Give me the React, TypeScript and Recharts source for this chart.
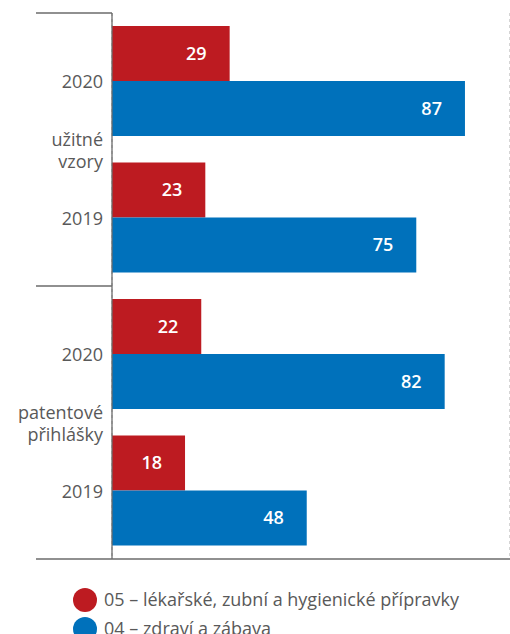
import React from 'react';
import {
  BarChart,
  Bar,
  XAxis,
  YAxis,
  CartesianGrid,
  LabelList,
  Legend,
} from 'recharts';

const years = ['2020', '2019', '2020', '2019'];
const groups = ['užitné vzory', 'užitné vzory', 'patentové přihlášky', 'patentové přihlášky'];
const medical = [29, 23, 22, 18];
const health = [87, 75, 82, 48];
const seriesNames = ['05 – lékařské, zubní a hygienické přípravky', '04 – zdraví a zábava'];
const xTicks = [0, 20, 40, 60, 80];

const RED = '#bd1b21';
const BLUE = '#0071bb';
const AXIS = '#6b6b6b';
const TEXT = '#595959';
const FONT = '"Open Sans", sans-serif';

const W = 510;
const H = 634;
const AXIS_W = 112;
const GROUP_LEFT = 36;

const data = years.map((year, i) => ({
  year,
  group: groups[i],
  medical: medical[i],
  health: health[i],
}));

const YearTick = (props: any) => {
  const { x, y, payload, index } = props;
  const half = payload.offset ?? 68;
  const i = index ?? payload.index;
  const lines = String(groups[i]).split(' ');
  return (
    <g>
      <text
        x={x}
        y={y}
        textAnchor="end"
        dominantBaseline="central"
        fill={TEXT}
        fontSize={18}
        fontFamily={FONT}
      >
        {payload.value}
      </text>
      {i % 2 === 0 && (
        <>
          <line x1={GROUP_LEFT} x2={AXIS_W} y1={y - half} y2={y - half} stroke={AXIS} strokeWidth={1.3} />
          <text
            x={x}
            y={y + half - 11}
            textAnchor="end"
            dominantBaseline="central"
            fill={TEXT}
            fontSize={18}
            fontFamily={FONT}
          >
            <tspan x={x}>{lines[0]}</tspan>
            <tspan x={x} dy={22}>{lines[1]}</tspan>
          </text>
        </>
      )}
      {i === years.length - 1 && (
        <line x1={GROUP_LEFT} x2={AXIS_W} y1={y + half} y2={y + half} stroke={AXIS} strokeWidth={1.3} />
      )}
    </g>
  );
};

const LegendContent = () => (
  <div style={{ fontFamily: FONT, fontSize: 18, color: TEXT, lineHeight: '29px' }}>
    {seriesNames.map((name, i) => (
      <div key={name} style={{ display: 'flex', alignItems: 'center', whiteSpace: 'nowrap' }}>
        <span
          style={{
            display: 'inline-block',
            width: 24,
            height: 24,
            borderRadius: 12,
            background: i === 0 ? RED : BLUE,
            marginRight: 7,
          }}
        />
        {name}
      </div>
    ))}
  </div>
);

export default function App() {
  return (
    <div style={{ width: W, height: H, position: 'relative', background: '#fff' }}>
      <style>{'body{margin:0}'}</style>
      <BarChart
        width={W}
        height={H}
        data={data}
        layout="vertical"
        margin={{ top: 13, right: 0, bottom: 74, left: 0 }}
        barCategoryGap={13}
        barGap={0}
      >
        <CartesianGrid horizontal={false} stroke="#aaaaaa" strokeDasharray="3 3" />
        <XAxis
          type="number"
          domain={[0, 98.1]}
          ticks={xTicks}
          tick={false}
          tickLine={false}
          axisLine={{ stroke: AXIS, strokeWidth: 1.3 }}
          height={1}
        />
        <YAxis
          type="category"
          dataKey="year"
          width={AXIS_W}
          tickLine={false}
          tickSize={0}
          tickMargin={9}
          axisLine={{ stroke: AXIS, strokeWidth: 1.3 }}
          tick={<YearTick />}
          interval={0}
        />
        <Legend
          layout="vertical"
          align="center"
          verticalAlign="middle"
          content={<LegendContent />}
          wrapperStyle={{ top: 585, left: 73, width: 420, height: 60 }}
        />
        <Bar dataKey="medical" name={seriesNames[0]} fill={RED} isAnimationActive={false}>
          <LabelList
            dataKey="medical"
            position="insideRight"
            offset={23}
            fill="#fff"
            fontSize={18}
            fontWeight={600}
            fontFamily={FONT}
          />
        </Bar>
        <Bar dataKey="health" name={seriesNames[1]} fill={BLUE} isAnimationActive={false}>
          <LabelList
            dataKey="health"
            position="insideRight"
            offset={23}
            fill="#fff"
            fontSize={18}
            fontWeight={600}
            fontFamily={FONT}
          />
        </Bar>
      </BarChart>
    </div>
  );
}
